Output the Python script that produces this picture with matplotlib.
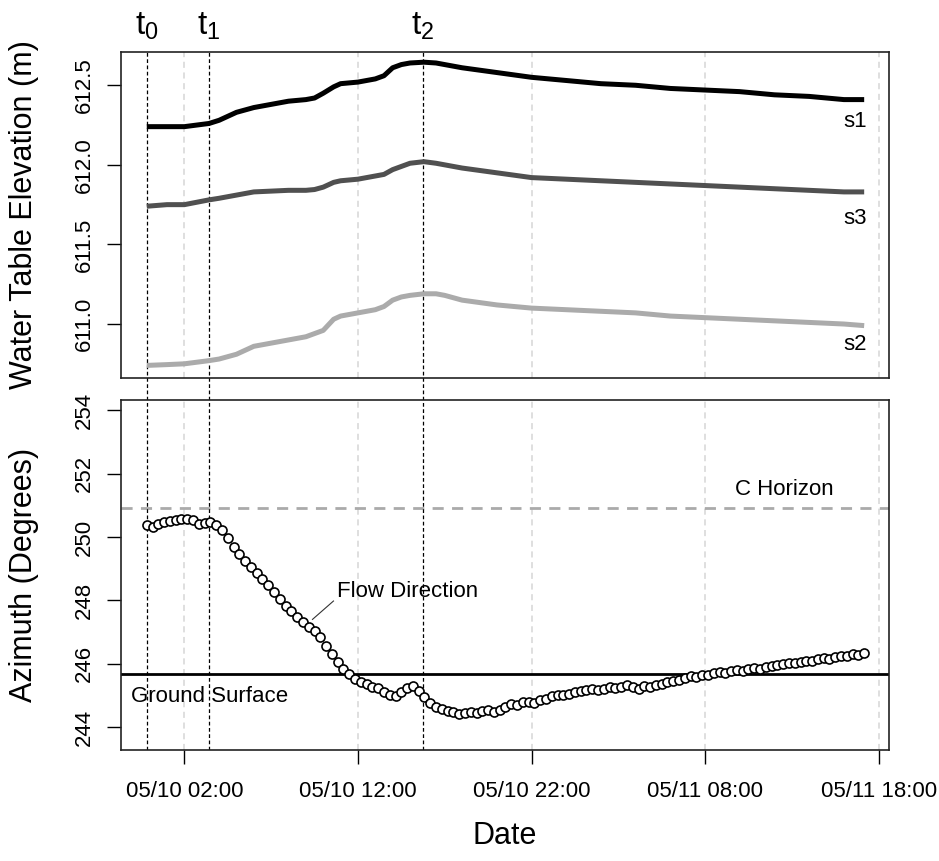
import numpy as np
import pandas as pd
import matplotlib
matplotlib.use("Agg")
import matplotlib.pyplot as plt
import matplotlib.dates as mdates

plt.rcParams["font.family"] = ["Liberation Sans", "DejaVu Sans"]
plt.rcParams["mathtext.fontset"] = "custom"
plt.rcParams["mathtext.rm"] = "Liberation Sans"

# ============================================
# DATA (hours after 05/10 00:00)
# ============================================
BASE = pd.Timestamp("2013-05-10 00:00")

wt_hours = [-0.167, 1, 2, 3.42, 4, 5, 6, 7, 8, 9, 9.5, 10, 10.6, 11, 12, 13,
            13.5, 14, 14.5, 15, 15.8, 16.5, 17, 18, 20, 22, 24, 26, 28, 30,
            32, 34, 36, 38, 40, 41.167]
s1 = [612.24, 612.24, 612.24, 612.26, 612.28, 612.33, 612.36, 612.38, 612.40,
      612.41, 612.42, 612.45, 612.49, 612.51, 612.52, 612.54, 612.56, 612.61,
      612.63, 612.64, 612.645, 612.64, 612.63, 612.61, 612.58, 612.55, 612.53,
      612.51, 612.50, 612.48, 612.47, 612.46, 612.44, 612.43, 612.41, 612.41]
s3 = [611.74, 611.75, 611.75, 611.78, 611.79, 611.81, 611.83, 611.835, 611.84,
      611.84, 611.845, 611.86, 611.89, 611.90, 611.91, 611.93, 611.94, 611.97,
      611.99, 612.01, 612.02, 612.01, 612.00, 611.98, 611.95, 611.92, 611.91,
      611.90, 611.89, 611.88, 611.87, 611.86, 611.85, 611.84, 611.83, 611.83]
s2 = [610.74, 610.745, 610.75, 610.77, 610.78, 610.81, 610.86, 610.88, 610.90,
      610.92, 610.94, 610.96, 611.03, 611.05, 611.07, 611.09, 611.11, 611.15,
      611.17, 611.18, 611.19, 611.19, 611.18, 611.15, 611.12, 611.10, 611.09,
      611.08, 611.07, 611.05, 611.04, 611.03, 611.02, 611.01, 611.00, 610.99]

# azimuth, every 20 min from 05/09 23:50
az_start = "2013-05-09 23:50"
azimuth = [
    250.38, 250.33, 250.40, 250.46, 250.50, 250.55, 250.58, 250.56, 250.52, 250.40,
    250.44, 250.48, 250.38, 250.22, 249.96, 249.69, 249.46, 249.25, 249.04, 248.85,
    248.68, 248.48, 248.25, 248.04, 247.83, 247.65, 247.47, 247.31, 247.17, 247.02,
    246.84, 246.56, 246.30, 246.06, 245.85, 245.68, 245.52, 245.42, 245.35, 245.28,
    245.23, 245.12, 245.02, 244.98, 245.12, 245.25, 245.30, 245.15, 244.95, 244.75,
    244.63, 244.58, 244.52, 244.49, 244.42, 244.44, 244.47, 244.45, 244.50, 244.53,
    244.49, 244.55, 244.64, 244.72, 244.70, 244.78, 244.80, 244.76, 244.85, 244.90,
    244.98, 245.02, 245.00, 245.06, 245.10, 245.14, 245.16, 245.20, 245.18, 245.22,
    245.26, 245.24, 245.28, 245.32, 245.26, 245.22, 245.30, 245.28, 245.34, 245.37,
    245.42, 245.46, 245.50, 245.55, 245.60, 245.58, 245.64, 245.66, 245.70, 245.74,
    245.72, 245.76, 245.80, 245.78, 245.83, 245.86, 245.84, 245.90, 245.93, 245.95,
    245.98, 246.03, 246.01, 246.06, 246.10, 246.08, 246.14, 246.18, 246.16, 246.22,
    246.25, 246.26, 246.30, 246.29, 246.33,
]

C_HORIZON = 250.92
GROUND_SURFACE = 245.67

event_times = ["2013-05-09 23:50", "2013-05-10 03:25", "2013-05-10 15:45"]
event_labels = [r"$\mathregular{t_0}$", r"$\mathregular{t_1}$", r"$\mathregular{t_2}$"]

tick_times = ["2013-05-10 02:00", "2013-05-10 12:00", "2013-05-10 22:00",
              "2013-05-11 08:00", "2013-05-11 18:00"]


def to_num(hours):
    return mdates.date2num(BASE + pd.to_timedelta(np.asarray(hours), unit="h"))


wt_x = to_num(wt_hours)
az_x = mdates.date2num(pd.date_range(az_start, periods=len(azimuth), freq="20min"))
ev_x = mdates.date2num(pd.to_datetime(event_times))
tk_x = mdates.date2num(pd.to_datetime(tick_times))
xlim = to_num([-1.65, 42.6])

# ============================================
# FIGURE
# ============================================
fig = plt.figure(figsize=(9.39, 8.61), dpi=100)
ax1 = fig.add_axes([0.1289, 0.5610, 0.8179, 0.3786])
ax2 = fig.add_axes([0.1289, 0.1289, 0.8179, 0.4065])

grid_kw = dict(color="#d6d6d6", lw=1.1, ls=(0, (4, 3)), zorder=0)
for ax in (ax1, ax2):
    ax.set_xlim(xlim)
    for t in tk_x:
        ax.axvline(t, **grid_kw)
    for s in ax.spines.values():
        s.set_linewidth(1.2)
        s.set_color("#222222")
    ax.tick_params(axis="y", direction="out", length=10, width=1, pad=9,
                   labelsize=16, labelrotation=90)

# top panel: water table
ax1.plot(wt_x, s1, color="black", lw=3.6, solid_capstyle="butt", zorder=3)
ax1.plot(wt_x, s3, color="#505050", lw=3.6, solid_capstyle="butt", zorder=3)
ax1.plot(wt_x, s2, color="#ababab", lw=3.6, solid_capstyle="butt", zorder=3)
lab_x = to_num(40.66)
ax1.text(lab_x, 612.27, "s1", fontsize=16, ha="center", va="center")
ax1.text(lab_x, 611.66, "s3", fontsize=16, ha="center", va="center")
ax1.text(lab_x, 610.87, "s2", fontsize=16, ha="center", va="center")
ax1.set_ylim(610.661, 612.709)
ax1.set_yticks([611.0, 611.5, 612.0, 612.5])
ax1.set_yticklabels(["611.0", "611.5", "612.0", "612.5"])
ax1.tick_params(axis="x", bottom=False, labelbottom=False)
for lbl in ax1.get_yticklabels():
    lbl.set_va("center")

# bottom panel: azimuth
ax2.axhline(C_HORIZON, color="#aaaaaa", lw=2, ls=(0, (4, 3)), zorder=1)
ax2.axhline(GROUND_SURFACE, color="black", lw=2, zorder=1)
ax2.plot(az_x, azimuth, ls="none", marker="o", ms=6.5, mfc="white",
         mec="black", mew=1.2, zorder=3)
ax2.set_ylim(243.28, 254.32)
ax2.set_yticks([244, 246, 248, 250, 252, 254])
ax2.set_yticklabels(["244", "246", "248", "250", "252", "254"])
for lbl in ax2.get_yticklabels():
    lbl.set_va("center")
ax2.set_xticks(tk_x)
ax2.xaxis.set_major_formatter(mdates.DateFormatter("%m/%d %H:%M"))
ax2.tick_params(axis="x", direction="out", length=10, width=1, pad=12,
                labelsize=16)

ax2.text(to_num(36.54), 251.51, "C Horizon", fontsize=16, ha="center", va="center")
ax2.text(to_num(3.44), 244.96, "Ground Surface", fontsize=16, ha="center", va="center")
ax2.text(to_num(10.78), 248.27, "Flow Direction", fontsize=16, ha="left", va="center")
ax2.plot(to_num([10.59, 9.38]), [247.98, 247.40], color="#333333", lw=0.8)

# event lines through both panels
for t, lab in zip(ev_x, event_labels):
    ax1.axvline(t, ymin=-0.0675, ymax=1, color="black", lw=0.9,
                ls=(0, (3, 2)), clip_on=False, zorder=2)
    ax2.axvline(t, color="black", lw=0.9, ls=(0, (3, 2)), zorder=2)
    ax1.text(t, 1.078, lab, transform=ax1.get_xaxis_transform(),
             fontsize=24, ha="center", va="center")

# axis titles
fig.text(0.0256, 1 - 215 / 861, "Water Table Elevation (m)", rotation=90,
         fontsize=22, ha="center", va="center")
fig.text(0.0256, 1 - 575 / 861, "Azimuth (Degrees)", rotation=90,
         fontsize=22, ha="center", va="center")
fig.text(0.5378, 1 - 836 / 861, "Date", fontsize=22, ha="center", va="center")

fig.savefig("out.png", dpi=100)
